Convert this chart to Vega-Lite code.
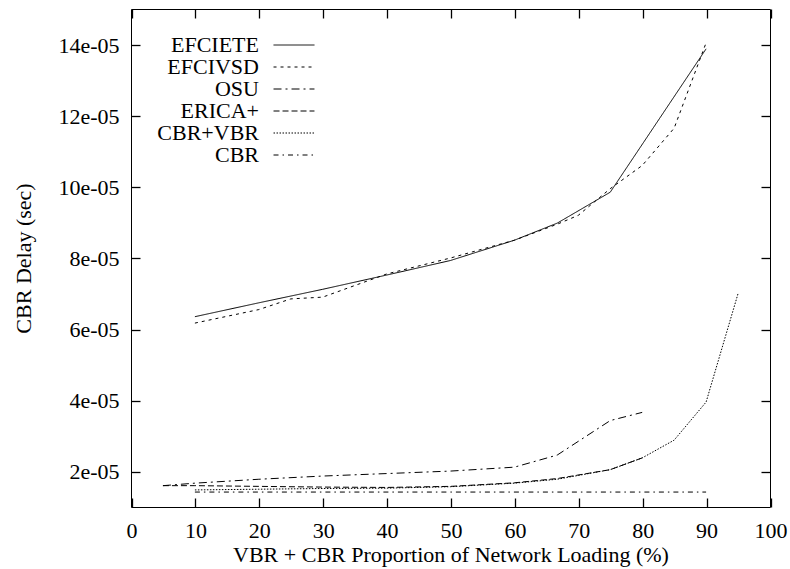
{
  "$schema": "https://vega.github.io/schema/vega-lite/v6.json",
  "width": 639,
  "height": 498,
  "autosize": {"type": "none"},
  "padding": {"left": 131, "top": 9, "right": 20, "bottom": 62},
  "background": "white",
  "config": {
    "view": {"stroke": "black", "strokeWidth": 1},
    "font": "Liberation Serif",
    "axis": {
      "grid": false,
      "domain": false,
      "ticks": true,
      "tickSize": 9,
      "tickColor": "black",
      "tickWidth": 1.3,
      "tickOffset": 0.5,
      "labelFlush": false,
      "labelFont": "Liberation Serif",
      "labelFontSize": 22,
      "labelColor": "black",
      "titleFont": "Liberation Serif",
      "titleFontSize": 22,
      "titleFontWeight": "normal",
      "titleColor": "black"
    },
    "legend": {
      "orient": "none",
      "legendX": 143,
      "legendY": 25,
      "symbolType": "M-1.95,0H1.95",
      "symbolSize": 441,
      "symbolOffset": 9,
      "symbolStrokeWidth": 1,
      "symbolStrokeColor": "black",
      "symbolFillColor": "transparent",
      "symbolOpacity": 1,
      "labelAlign": "right",
      "labelOffset": -46,
      "labelFont": "Liberation Serif",
      "labelFontSize": 22,
      "labelColor": "black",
      "labelLimit": 0,
      "rowPadding": -1.4,
      "padding": 0,
      "title": null
    }
  },
  "data": {
    "values": [
      {"series": "EFCIETE", "load": 10, "delay": 6.35e-5},
      {"series": "EFCIETE", "load": 20, "delay": 6.74e-5},
      {"series": "EFCIETE", "load": 30, "delay": 7.12e-5},
      {"series": "EFCIETE", "load": 40, "delay": 7.52e-5},
      {"series": "EFCIETE", "load": 50, "delay": 7.93e-5},
      {"series": "EFCIETE", "load": 60, "delay": 8.5e-5},
      {"series": "EFCIETE", "load": 66.7, "delay": 8.98e-5},
      {"series": "EFCIETE", "load": 75, "delay": 9.85e-5},
      {"series": "EFCIETE", "load": 90, "delay": 13.88e-5},

      {"series": "EFCIVSD", "load": 10, "delay": 6.17e-5},
      {"series": "EFCIVSD", "load": 20, "delay": 6.55e-5},
      {"series": "EFCIVSD", "load": 25, "delay": 6.85e-5},
      {"series": "EFCIVSD", "load": 30, "delay": 6.9e-5},
      {"series": "EFCIVSD", "load": 40, "delay": 7.55e-5},
      {"series": "EFCIVSD", "load": 50, "delay": 8.0e-5},
      {"series": "EFCIVSD", "load": 60, "delay": 8.5e-5},
      {"series": "EFCIVSD", "load": 66.7, "delay": 8.95e-5},
      {"series": "EFCIVSD", "load": 70, "delay": 9.2e-5},
      {"series": "EFCIVSD", "load": 75, "delay": 9.95e-5},
      {"series": "EFCIVSD", "load": 80, "delay": 10.6e-5},
      {"series": "EFCIVSD", "load": 85, "delay": 11.65e-5},
      {"series": "EFCIVSD", "load": 90, "delay": 14.05e-5},

      {"series": "OSU", "load": 5, "delay": 1.6e-5},
      {"series": "OSU", "load": 10, "delay": 1.67e-5},
      {"series": "OSU", "load": 20, "delay": 1.78e-5},
      {"series": "OSU", "load": 30, "delay": 1.87e-5},
      {"series": "OSU", "load": 40, "delay": 1.94e-5},
      {"series": "OSU", "load": 50, "delay": 2.01e-5},
      {"series": "OSU", "load": 60, "delay": 2.12e-5},
      {"series": "OSU", "load": 66.7, "delay": 2.46e-5},
      {"series": "OSU", "load": 75, "delay": 3.43e-5},
      {"series": "OSU", "load": 80, "delay": 3.66e-5},

      {"series": "ERICA+", "load": 5, "delay": 1.6e-5},
      {"series": "ERICA+", "load": 10, "delay": 1.6e-5},
      {"series": "ERICA+", "load": 20, "delay": 1.58e-5},
      {"series": "ERICA+", "load": 30, "delay": 1.56e-5},
      {"series": "ERICA+", "load": 40, "delay": 1.55e-5},
      {"series": "ERICA+", "load": 50, "delay": 1.58e-5},
      {"series": "ERICA+", "load": 60, "delay": 1.68e-5},
      {"series": "ERICA+", "load": 66.7, "delay": 1.8e-5},
      {"series": "ERICA+", "load": 75, "delay": 2.05e-5},
      {"series": "ERICA+", "load": 80, "delay": 2.38e-5},

      {"series": "CBR+VBR", "load": 10, "delay": 1.48e-5},
      {"series": "CBR+VBR", "load": 20, "delay": 1.5e-5},
      {"series": "CBR+VBR", "load": 30, "delay": 1.52e-5},
      {"series": "CBR+VBR", "load": 40, "delay": 1.53e-5},
      {"series": "CBR+VBR", "load": 50, "delay": 1.57e-5},
      {"series": "CBR+VBR", "load": 60, "delay": 1.67e-5},
      {"series": "CBR+VBR", "load": 66.7, "delay": 1.78e-5},
      {"series": "CBR+VBR", "load": 75, "delay": 2.05e-5},
      {"series": "CBR+VBR", "load": 80, "delay": 2.38e-5},
      {"series": "CBR+VBR", "load": 85, "delay": 2.88e-5},
      {"series": "CBR+VBR", "load": 90, "delay": 3.95e-5},
      {"series": "CBR+VBR", "load": 95, "delay": 7.0e-5},

      {"series": "CBR", "load": 10, "delay": 1.42e-5},
      {"series": "CBR", "load": 30, "delay": 1.42e-5},
      {"series": "CBR", "load": 50, "delay": 1.42e-5},
      {"series": "CBR", "load": 70, "delay": 1.42e-5},
      {"series": "CBR", "load": 90, "delay": 1.42e-5}
    ]
  },
  "layer": [
    {
      "mark": {"type": "line", "color": "black", "strokeWidth": 1},
      "encoding": {
        "x": {
          "field": "load", "type": "quantitative",
          "scale": {"domain": [0, 100], "nice": false, "zero": false},
          "axis": {
            "orient": "bottom",
            "title": "VBR + CBR Proportion of Network Loading (%)",
            "values": [0, 10, 20, 30, 40, 50, 60, 70, 80, 90, 100],
            "format": "d",
            "offset": -9,
            "labelPadding": 13.6,
            "titlePadding": 3
          }
        },
        "y": {
          "field": "delay", "type": "quantitative",
          "scale": {"domain": [1e-5, 1.5e-4], "nice": false, "zero": false},
          "axis": {
            "orient": "left",
            "title": "CBR Delay (sec)",
            "values": [2e-5, 4e-5, 6e-5, 8e-5, 10e-5, 12e-5, 14e-5],
            "labelExpr": "format(datum.value * 100000, 'd') + 'e-05'",
            "offset": -9,
            "labelPadding": 12,
            "titlePadding": 22
          }
        },
        "strokeDash": {
          "field": "series", "type": "nominal",
          "scale": {
            "domain": ["EFCIETE", "EFCIVSD", "OSU", "ERICA+", "CBR+VBR", "CBR"],
            "range": [[1, 0], [3, 4], [8, 4, 2, 4], [6, 3], [1.5, 1.5], [5, 4, 1.5, 4]]
          }
        }
      }
    },
    {
      "mark": {"type": "point", "opacity": 0, "size": 1},
      "encoding": {
        "x": {
          "field": "load", "type": "quantitative",
          "axis": {
            "orient": "top",
            "title": null,
            "labels": false,
            "values": [0, 10, 20, 30, 40, 50, 60, 70, 80, 90, 100],
            "offset": -9
          }
        },
        "y": {
          "field": "delay", "type": "quantitative",
          "axis": {
            "orient": "right",
            "title": null,
            "labels": false,
            "values": [2e-5, 4e-5, 6e-5, 8e-5, 10e-5, 12e-5, 14e-5],
            "offset": -9
          }
        }
      }
    }
  ],
  "resolve": {"axis": {"x": "independent", "y": "independent"}}
}
